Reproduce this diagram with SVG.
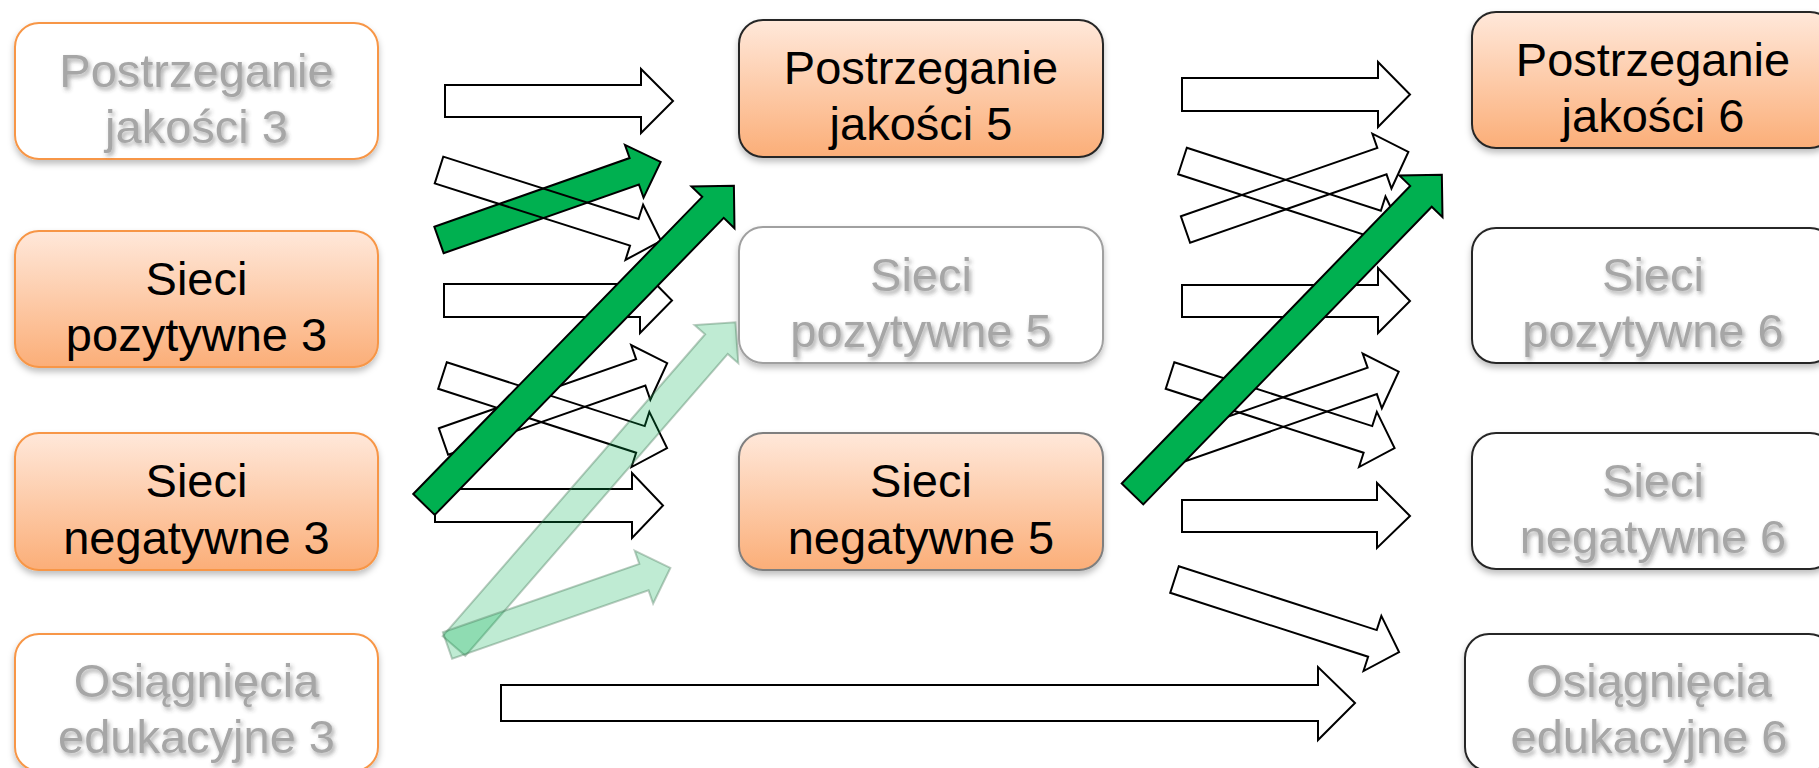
<svg xmlns="http://www.w3.org/2000/svg" width="1819" height="768" viewBox="0 0 1819 768">
  <defs>
    <linearGradient id="peach" x1="0" y1="0" x2="0" y2="1">
      <stop offset="0" stop-color="#ffe8da"/>
      <stop offset="1" stop-color="#fbae78"/>
    </linearGradient>
    <filter id="boxShadow" x="-5%" y="-10%" width="110%" height="125%">
      <feDropShadow dx="0" dy="4" stdDeviation="3" flood-color="#000" flood-opacity="0.25"/>
    </filter>
    <filter id="txtShadow" x="-10%" y="-20%" width="120%" height="150%">
      <feDropShadow dx="2" dy="3" stdDeviation="2" flood-color="#404040" flood-opacity="0.45"/>
    </filter>
  </defs>
  <style>
    text { font-family: "Liberation Sans", Arial, sans-serif; font-size: 47px; text-anchor: middle; }
    .dark { fill: #000; }
    .faint { fill: #a6a6a6; filter: url(#txtShadow); }
    .boxO { stroke: #f79646; stroke-width: 2; filter: url(#boxShadow); }
    .boxK { stroke: #262626; stroke-width: 2; filter: url(#boxShadow); }
    .boxG { stroke: #a0a0a0; stroke-width: 2; filter: url(#boxShadow); }
    .boxM { stroke: #7f7f7f; stroke-width: 2; filter: url(#boxShadow); }
    .fillP { fill: url(#peach); }
    .fillW { fill: #fff; }
    .arr { fill: none; stroke: #000; stroke-width: 2; stroke-linejoin: miter; }
    .arrW { fill: #fff; stroke: #000; stroke-width: 2; }
    .green { fill: #00b050; stroke: #000; stroke-width: 2; }
    .lgreen { fill: #00b050; fill-opacity: 0.25; stroke: #3c6e4c; stroke-opacity: 0.35; stroke-width: 2; }
  </style>
  <rect width="1819" height="768" fill="#fff"/>

  <!-- Column 1 -->
  <g id="pj3">
    <rect class="boxO fillW" x="15" y="23" width="363" height="136" rx="24"/>
    <text class="faint" x="196.5" y="87">Postrzeganie</text>
    <text class="faint" x="196.5" y="143">jakości 3</text>
  </g>
  <g id="sp3">
    <rect class="boxO fillP" x="15" y="231" width="363" height="136" rx="24"/>
    <text class="dark" x="196.5" y="295">Sieci</text>
    <text class="dark" x="196.5" y="351">pozytywne 3</text>
  </g>
  <g id="sn3">
    <rect class="boxO fillP" x="15" y="433" width="363" height="137" rx="24"/>
    <text class="dark" x="196.5" y="497">Sieci</text>
    <text class="dark" x="196.5" y="554">negatywne 3</text>
  </g>
  <g id="oe3">
    <rect class="boxO fillW" x="15" y="634" width="363" height="137" rx="24"/>
    <text class="faint" x="196.5" y="697">Osiągnięcia</text>
    <text class="faint" x="196.5" y="753">edukacyjne 3</text>
  </g>

  <!-- Column 2 -->
  <g id="pj5">
    <rect class="boxK fillP" x="739" y="20" width="364" height="137" rx="24"/>
    <text class="dark" x="921" y="84">Postrzeganie</text>
    <text class="dark" x="921" y="140">jakości 5</text>
  </g>
  <g id="sp5">
    <rect class="boxG fillW" x="739" y="227" width="364" height="136" rx="24"/>
    <text class="faint" x="921" y="291">Sieci</text>
    <text class="faint" x="921" y="347">pozytywne 5</text>
  </g>
  <g id="sn5">
    <rect class="boxM fillP" x="739" y="433" width="364" height="137" rx="24"/>
    <text class="dark" x="921" y="497">Sieci</text>
    <text class="dark" x="921" y="554">negatywne 5</text>
  </g>

  <!-- Column 3 -->
  <g id="pj6">
    <rect class="boxK fillP" x="1472" y="12" width="362" height="136" rx="24"/>
    <text class="dark" x="1653" y="76">Postrzeganie</text>
    <text class="dark" x="1653" y="132">jakości 6</text>
  </g>
  <g id="sp6">
    <rect class="boxK fillW" x="1472" y="228" width="362" height="135" rx="24"/>
    <text class="faint" x="1653" y="291">Sieci</text>
    <text class="faint" x="1653" y="347">pozytywne 6</text>
  </g>
  <g id="sn6">
    <rect class="boxK fillW" x="1472" y="433" width="362" height="136" rx="24"/>
    <text class="faint" x="1653" y="497">Sieci</text>
    <text class="faint" x="1653" y="553">negatywne 6</text>
  </g>
  <g id="oe6">
    <rect class="boxK fillW" x="1465" y="634" width="368" height="137" rx="24"/>
    <text class="faint" x="1649" y="697">Osiągnięcia</text>
    <text class="faint" x="1649" y="753">edukacyjne 6</text>
  </g>

  <!-- Connectors -->
  <g id="connectors">
    <!-- left cluster -->
    <polygon class="arrW" points="445,85 641,85 641,69 673,101 641,133 641,117 445,117"/>
    <polygon class="arrW" points="444,284 640,284 640,268 672,300.5 640,333 640,317 444,317"/>
    <polygon class="arrW" points="435,489 632,489 632,473 663,505.5 632,538 632,522 435,522"/>
    <polygon class="green" transform="translate(439,240) rotate(-19.4)" points="0,-14 207,-14 207,-28 235,0 207,28 207,14 0,14"/>
    <polygon class="arr" transform="translate(439,170) rotate(17.7)" points="0,-14 205,-14 205,-29 233,0 205,29 205,14 0,14"/>
    <polygon class="arr" transform="translate(442.5,375.5) rotate(17.9)" points="0,-14 208,-14 208,-29 236,0 208,29 208,14 0,14"/>
    <polygon class="arr" transform="translate(443.5,441.5) rotate(-19.3)" points="0,-14 209,-14 209,-29 237,0 209,29 209,14 0,14"/>
    <polygon class="lgreen" transform="translate(454,646) rotate(-49)" points="0,-15 400,-15 400,-29 429,0 400,29 400,15 0,15"/>
    <polygon class="lgreen" transform="translate(447.5,645.5) rotate(-19.2)" points="0,-14 208,-14 208,-28 236,0 208,28 208,14 0,14"/>
    <polygon class="green" transform="translate(424,504.5) rotate(-45.8)" points="0,-15 414.5,-15 414.5,-30 444.5,0 414.5,30 414.5,15 0,15"/>

    <!-- long bottom arrow -->
    <polygon class="arrW" points="501,685 1318,685 1318,667 1355,703 1318,740 1318,721 501,721"/>

    <!-- right cluster -->
    <polygon class="arrW" points="1182,78 1378,78 1378,62 1410,94.5 1378,127 1378,111 1182,111"/>
    <polygon class="arrW" points="1182,285 1378,285 1378,268 1410,301 1378,333 1378,317 1182,317"/>
    <polygon class="arrW" points="1182,500 1377,500 1377,483 1410,516 1377,548 1377,532 1182,532"/>
    <polygon class="arr" transform="translate(1182.5,161) rotate(18)" points="0,-14 204,-14 204,-29 232,0 204,29 204,14 0,14"/>
    <polygon class="arr" transform="translate(1185.5,229.5) rotate(-19.2)" points="0,-14 208,-14 208,-29 236,0 208,29 208,14 0,14"/>
    <polygon class="arr" transform="translate(1170,375.5) rotate(17.9)" points="0,-14 208,-14 208,-29 236,0 208,29 208,14 0,14"/>
    <polygon class="arr" transform="translate(1175,450) rotate(-19.3)" points="0,-14 209,-14 209,-29 237,0 209,29 209,14 0,14"/>
    <polygon class="arr" transform="translate(1174.5,579.5) rotate(17.9)" points="0,-14 208,-14 208,-29 236,0 208,29 208,14 0,14"/>
    <polygon class="green" transform="translate(1132.5,494) rotate(-45.9)" points="0,-15 414.5,-15 414.5,-30 444.5,0 414.5,30 414.5,15 0,15"/>
  </g>
</svg>
